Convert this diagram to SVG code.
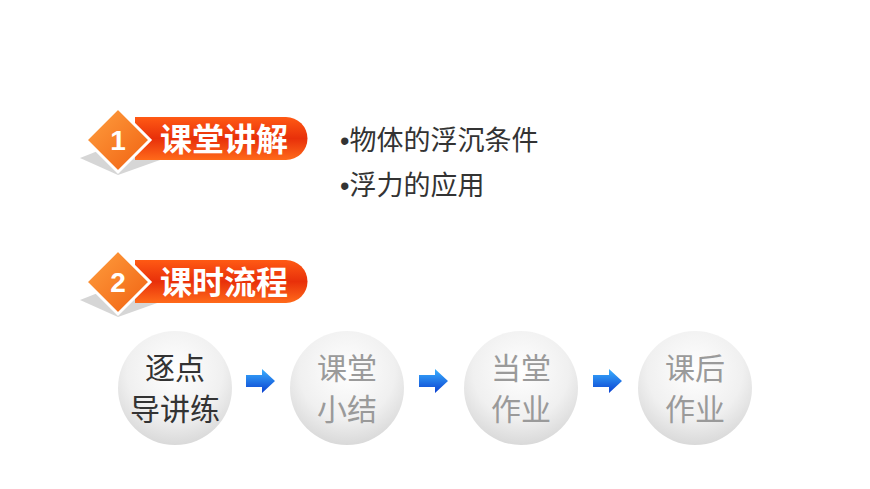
<svg xmlns="http://www.w3.org/2000/svg" width="870" height="489" viewBox="0 0 870 489">
<defs>
<linearGradient id="pill" x1="0" y1="0" x2="0" y2="1"><stop offset="0" stop-color="#ff5a14"/><stop offset="0.5" stop-color="#e8300a"/><stop offset="1" stop-color="#ff6a1a"/></linearGradient>
<linearGradient id="dia" x1="0" y1="0" x2="1" y2="1"><stop offset="0" stop-color="#ffa040"/><stop offset="1" stop-color="#f06010"/></linearGradient>
<radialGradient id="circ" cx="0.5" cy="0.35" r="0.7"><stop offset="0" stop-color="#ffffff"/><stop offset="0.6" stop-color="#f0f0f0"/><stop offset="1" stop-color="#d4d4d4"/></radialGradient>
<linearGradient id="arr" x1="0" y1="0" x2="0" y2="1"><stop offset="0" stop-color="#3ab0ff"/><stop offset="1" stop-color="#0a40d0"/></linearGradient>
<g id="arrow"><path d="M0,-6 H16 V-12 L29,0 L16,12 V6 H0 Z" fill="url(#arr)"/></g>
</defs>
<style>
.bt{font-family:"Noto Sans CJK SC",sans-serif;font-size:32px;font-weight:bold;fill:#fff}
.num{font-family:"Liberation Sans",sans-serif;font-size:28px;font-weight:bold;fill:#fff}
.li{font-family:"Noto Sans CJK SC",sans-serif;font-size:27px;fill:#333}
.bu{font-family:"Liberation Sans",sans-serif}
.ct{font-family:"Noto Sans CJK SC",sans-serif;font-size:30px;fill:#9a9a9a;text-anchor:middle}
</style>
<rect width="870" height="489" fill="#fff"/>
<g id="banner1">
<path d="M80,158 L118,143 L160,160 L118,175 Z" fill="#bbb" opacity="0.6"/>
<path d="M135,117 H286 A21.5,21.5 0 0 1 286,160 H135 Z" fill="url(#pill)"/>
<path d="M118,108 L150,140 L118,172 L86,140 Z" fill="url(#dia)" stroke="#fff" stroke-width="3"/>
<text class="num" x="118" y="150" text-anchor="middle">1</text>
<text class="bt" x="160" y="151">课堂讲解</text>
</g>
<g id="banner2">
<path d="M80,300 L118,285 L160,302 L118,317 Z" fill="#bbb" opacity="0.6"/>
<path d="M135,260 H286 A21.5,21.5 0 0 1 286,303 H135 Z" fill="url(#pill)"/>
<path d="M118,250 L150,282 L118,314 L86,282 Z" fill="url(#dia)" stroke="#fff" stroke-width="3"/>
<text class="num" x="118" y="292" text-anchor="middle">2</text>
<text class="bt" x="160" y="294">课时流程</text>
</g>
<g id="list">
<text class="li" x="340" y="150"><tspan class="bu">•</tspan>物体的浮沉条件</text>
<text class="li" x="340" y="195"><tspan class="bu">•</tspan>浮力的应用</text>
</g>
<g id="n1"><circle cx="175" cy="388" r="57" fill="url(#circ)"/><text class="ct" x="175" y="379" style="fill:#333">逐点</text><text class="ct" x="175" y="420" style="fill:#333">导讲练</text></g>
<g id="n2"><circle cx="347" cy="388" r="57" fill="url(#circ)"/><text class="ct" x="347" y="379">课堂</text><text class="ct" x="347" y="420">小结</text></g>
<g id="n3"><circle cx="521" cy="388" r="57" fill="url(#circ)"/><text class="ct" x="521" y="379">当堂</text><text class="ct" x="521" y="420">作业</text></g>
<g id="n4"><circle cx="695" cy="388" r="57" fill="url(#circ)"/><text class="ct" x="695" y="379">课后</text><text class="ct" x="695" y="420">作业</text></g>
<g id="connectors">
<use href="#arrow" x="246" y="381"/>
<use href="#arrow" x="419" y="381"/>
<use href="#arrow" x="593" y="381"/>
</g>
</svg>
